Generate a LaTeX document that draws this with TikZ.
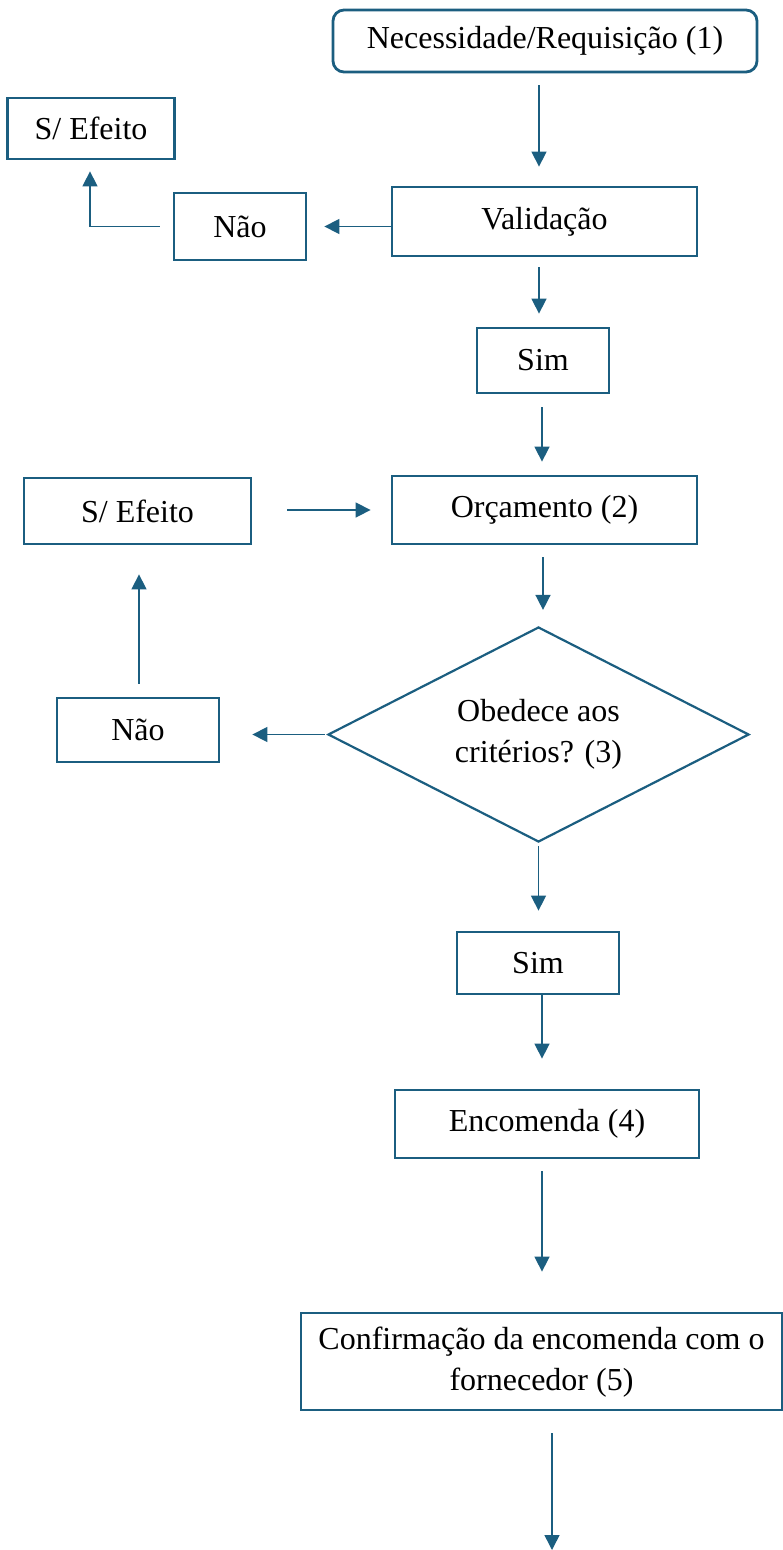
\documentclass[tikz,border=0pt]{standalone}
\usepackage{fontspec}
\setmainfont{Liberation Serif}
\usetikzlibrary{shapes.geometric,arrows.meta,calc}
\definecolor{flow}{HTML}{1B5E80}
\begin{document}
\begin{tikzpicture}[x=1pt,y=-1pt,
  box/.style={draw=flow,line width=2.8pt,inner sep=0pt,align=center,
    font=\fontsize{32}{41}\selectfont},
  decis/.style={box,shape=diamond,line width=2.2pt,aspect=1.96},
  arr/.style={draw=flow,line width=1.5pt,-{Triangle[length=15pt,width=15pt]}}]
\useasboundingbox (0,0) rectangle (782,1550);
\node[box,rounded corners=11pt,minimum width=424pt,minimum height=62pt] (n1) at (545,41) {\raisebox{-5pt}{Necessidade/Requisição (1)}};
\node[box,minimum width=167pt,minimum height=61pt] (sef1) at (91,128.5) {S/ Efeito};
\node[box,minimum width=132pt,minimum height=67pt] (nao1) at (240,226.5) {Não};
\node[box,minimum width=305pt,minimum height=69pt] (val) at (544.5,221.5) {Validação};
\node[box,minimum width=132pt,minimum height=65pt] (sim1) at (543,360.5) {Sim};
\node[box,minimum width=305pt,minimum height=68pt] (orc) at (544.5,510) {Orçamento (2)};
\node[box,minimum width=227pt,minimum height=66pt] (sef2) at (137.5,511) {S/ Efeito};
\node[decis,minimum width=421pt,minimum height=215pt] (dia) at (538.5,734.5) {Obedece aos\\critérios? (3)};
\node[box,minimum width=162pt,minimum height=64pt] (nao2) at (138,730) {Não};
\node[box,minimum width=162pt,minimum height=62pt] (sim2) at (538,963) {Sim};
\node[box,minimum width=304pt,minimum height=68pt] (enc) at (547,1124) {Encomenda (4)};
\node[box,minimum width=481pt,minimum height=97pt] (conf) at (541.5,1361.5) {\raisebox{-6pt}{\begin{tabular}{@{}c@{}}Confirmação da encomenda com o\\fornecedor (5)\end{tabular}}};
\coordinate (fim) at (552,1550);

\draw[arr,shorten <=12pt,shorten >=19pt] ([xshift=-6pt]n1.south) -- ([xshift=-6pt]n1.south |- val.north);
\draw[arr,shorten >=17pt] (val.west |- nao1.east) -- (nao1.east);
\draw[arr,shorten <=13pt,shorten >=11pt] (nao1.west) -| ([xshift=-1pt]sef1.south);
\draw[arr,shorten <=10pt,shorten >=13pt] ([xshift=-5.5pt]val.south) -- ([xshift=-5.5pt]val.south |- sim1.north);
\draw[arr,shorten <=13pt,shorten >=13pt] ([xshift=-1pt]sim1.south) -- ([xshift=-1pt]sim1.south |- orc.north);
\draw[arr,shorten <=35pt,shorten >=20pt] ([yshift=1pt]sef2.east) -- ([yshift=1pt]sef2.east -| orc.west);
\draw[arr,shorten <=12pt,shorten >=16pt] ([xshift=-1.5pt]orc.south) -- ([xshift=-1.5pt]orc.south |- dia.north);
\draw[arr,shorten <=2pt,shorten >=32pt] (dia.west) -- (dia.west -| nao2.east);
\draw[arr,shorten <=13pt,shorten >=29pt] ([xshift=1pt]nao2.north) -- ([xshift=1pt]nao2.north |- sef2.south);
\draw[arr,shorten <=3pt,shorten >=20pt] (dia.south) -- (dia.south |- sim2.north);
\draw[arr,shorten >=30pt] ([xshift=4pt]sim2.south) -- ([xshift=4pt]sim2.south |- enc.north);
\draw[arr,shorten <=12pt,shorten >=40pt] ([xshift=-5pt]enc.south) -- ([xshift=-5pt]enc.south |- conf.north);
\draw[arr,shorten <=22pt] (conf.south -| fim) -- (fim);
\end{tikzpicture}
\end{document}
